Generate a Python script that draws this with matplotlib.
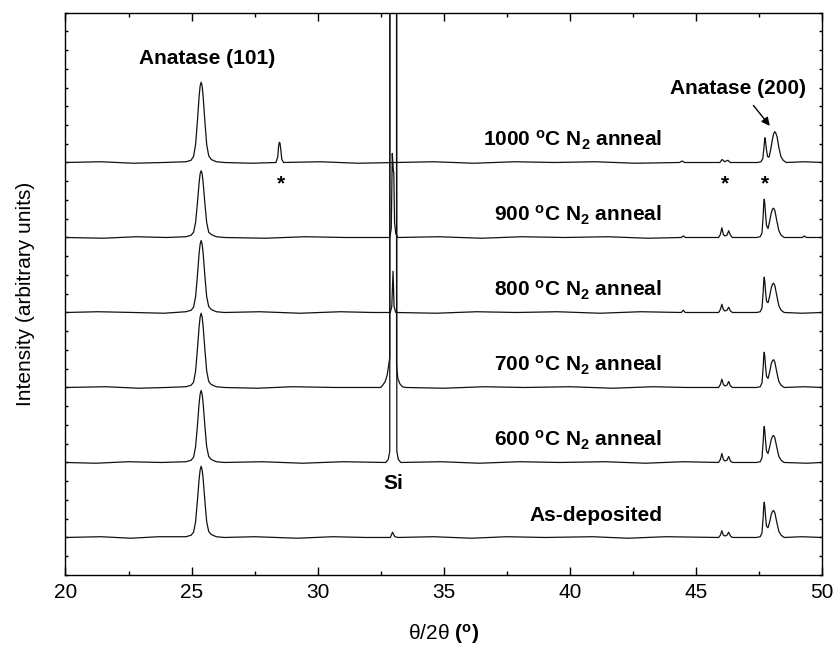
import numpy as np
import matplotlib.pyplot as plt
import matplotlib as mpl

plt.rcParams['font.family'] = 'Liberation Sans'
plt.rcParams['mathtext.fontset'] = 'custom'
plt.rcParams['mathtext.rm'] = 'Liberation Sans'
plt.rcParams['mathtext.bf'] = 'Liberation Sans:bold'
plt.rcParams['mathtext.it'] = 'Liberation Sans:italic'

# XRD scans: (2theta, intensity above the scan's own baseline)
# one baseline step between stacked scans = 1 unit

asdep = [(20.00, 0.00), (21.40, 0.01), (22.60, -0.01), (23.70, 0.01),
         (24.78, 0.01), (24.98, 0.03), (25.08, 0.07), (25.16, 0.21), (25.23, 0.48), (25.30, 0.78),
         (25.34, 0.90), (25.38, 0.95), (25.42, 0.90), (25.46, 0.78), (25.53, 0.48), (25.60, 0.21),
         (25.68, 0.08), (25.78, 0.04), (25.98, 0.01), (26.30, 0.00), (27.50, 0.01), (29.20, -0.01),
         (30.60, 0.01), (31.90, 0.00),
         (32.88, 0.00), (32.97, 0.07), (33.06, 0.01), (33.20, 0.00), (34.60, 0.01), (36.10, -0.01),
         (37.50, 0.01), (39.00, 0.00), (40.90, 0.01), (42.30, -0.01), (43.80, 0.01),
         (45.90, 0.00), (45.97, 0.03), (46.03, 0.09), (46.09, 0.03), (46.15, 0.02), (46.23, 0.03),
         (46.30, 0.07), (46.37, 0.02), (46.45, 0.00),
         (47.40, 0.00), (47.55, 0.01), (47.62, 0.06), (47.67, 0.28), (47.69, 0.42), (47.71, 0.47),
         (47.73, 0.42), (47.76, 0.29), (47.80, 0.15), (47.86, 0.13), (47.92, 0.20), (47.99, 0.31),
         (48.04, 0.35), (48.08, 0.36), (48.13, 0.33), (48.21, 0.20), (48.29, 0.08), (48.38, 0.03),
         (48.50, 0.00), (49.20, 0.01), (50.00, 0.00)]

n600 = [(20.00, 0.00), (21.20, -0.01), (22.50, 0.01), (23.80, 0.00),
        (24.78, 0.01), (24.98, 0.03), (25.08, 0.07), (25.16, 0.21), (25.23, 0.48), (25.30, 0.79),
        (25.34, 0.91), (25.38, 0.96), (25.42, 0.91), (25.46, 0.79), (25.53, 0.48), (25.60, 0.21),
        (25.68, 0.08), (25.78, 0.04), (25.98, 0.01), (26.30, 0.00), (27.80, 0.01), (29.40, -0.01),
        (31.00, 0.01),
        (32.70, 0.00), (32.80, 0.04), (32.86, 0.15), (32.90, 60.0), (33.10, 60.0), (33.14, 0.15),
        (33.20, 0.04), (33.30, 0.00), (34.90, 0.01), (36.40, -0.01), (38.00, 0.01), (39.60, 0.00),
        (41.40, 0.01), (43.00, -0.01), (44.50, 0.01),
        (45.90, 0.00), (45.97, 0.04), (46.03, 0.12), (46.09, 0.04), (46.15, 0.02), (46.23, 0.03),
        (46.30, 0.08), (46.37, 0.02), (46.45, 0.00),
        (47.40, 0.00), (47.55, 0.01), (47.62, 0.06), (47.67, 0.29), (47.69, 0.43), (47.71, 0.48),
        (47.73, 0.43), (47.76, 0.30), (47.80, 0.15), (47.86, 0.12), (47.92, 0.20), (47.99, 0.31),
        (48.04, 0.35), (48.08, 0.36), (48.13, 0.33), (48.21, 0.20), (48.29, 0.08), (48.38, 0.03),
        (48.50, 0.00), (49.40, -0.01), (50.00, 0.00)]

n700 = [(20.00, 0.00), (21.60, 0.01), (22.90, -0.01), (24.00, 0.00),
        (24.78, 0.01), (24.98, 0.03), (25.08, 0.07), (25.16, 0.22), (25.23, 0.50), (25.30, 0.81),
        (25.34, 0.94), (25.38, 0.99), (25.42, 0.94), (25.46, 0.81), (25.53, 0.50), (25.60, 0.22),
        (25.68, 0.08), (25.78, 0.04), (25.98, 0.01), (26.30, 0.00), (27.60, -0.01), (29.00, 0.01),
        (30.70, 0.00),
        (32.50, 0.00), (32.58, 0.03), (32.68, 0.08), (32.76, 0.17), (32.82, 0.30), (32.86, 0.40),
        (32.90, 60.0), (33.10, 60.0), (33.13, 0.30), (33.18, 0.12), (33.26, 0.05), (33.36, 0.01),
        (33.50, 0.00), (35.00, -0.01), (36.60, 0.01), (38.20, 0.00), (40.00, 0.01), (41.70, -0.01),
        (43.30, 0.01), (44.60, 0.00),
        (45.90, 0.00), (45.97, 0.04), (46.03, 0.11), (46.09, 0.04), (46.15, 0.02), (46.23, 0.03),
        (46.30, 0.08), (46.37, 0.02), (46.45, 0.00),
        (47.40, 0.00), (47.55, 0.01), (47.62, 0.06), (47.67, 0.28), (47.69, 0.42), (47.71, 0.47),
        (47.73, 0.42), (47.76, 0.29), (47.80, 0.15), (47.86, 0.12), (47.92, 0.20), (47.99, 0.32),
        (48.04, 0.36), (48.08, 0.37), (48.13, 0.34), (48.21, 0.20), (48.29, 0.08), (48.38, 0.03),
        (48.50, 0.00), (49.30, 0.01), (50.00, 0.00)]

n800 = [(20.00, 0.00), (21.30, 0.01), (22.70, 0.00), (23.90, -0.01),
        (24.78, 0.01), (24.98, 0.03), (25.08, 0.07), (25.16, 0.21), (25.23, 0.48), (25.30, 0.79),
        (25.34, 0.91), (25.38, 0.96), (25.42, 0.91), (25.46, 0.79), (25.53, 0.48), (25.60, 0.21),
        (25.68, 0.08), (25.78, 0.04), (25.98, 0.01), (26.30, 0.00), (27.70, 0.01), (29.30, -0.01),
        (30.90, 0.01), (32.20, 0.00),
        (32.88, 0.00), (32.94, 0.08), (32.99, 0.55), (33.03, 0.08), (33.10, 0.00), (34.70, -0.01),
        (36.30, 0.01), (37.90, 0.00), (39.50, 0.01), (41.20, -0.01), (42.80, 0.01),
        (44.42, 0.00), (44.50, 0.03), (44.58, 0.00),
        (45.90, 0.00), (45.97, 0.04), (46.03, 0.11), (46.09, 0.04), (46.15, 0.02), (46.23, 0.03),
        (46.30, 0.07), (46.37, 0.02), (46.45, 0.00),
        (47.40, 0.00), (47.55, 0.01), (47.62, 0.06), (47.67, 0.28), (47.69, 0.42), (47.71, 0.47),
        (47.73, 0.42), (47.76, 0.29), (47.80, 0.15), (47.86, 0.13), (47.92, 0.21), (47.99, 0.33),
        (48.04, 0.38), (48.08, 0.39), (48.13, 0.36), (48.21, 0.22), (48.29, 0.09), (48.38, 0.03),
        (48.50, 0.00), (49.20, -0.01), (50.00, 0.00)]

n900 = [(20.00, 0.00), (21.50, -0.01), (22.80, 0.01), (24.00, 0.00),
        (24.78, 0.01), (24.98, 0.03), (25.08, 0.07), (25.16, 0.20), (25.23, 0.45), (25.30, 0.73),
        (25.34, 0.85), (25.38, 0.89), (25.42, 0.85), (25.46, 0.73), (25.53, 0.45), (25.60, 0.20),
        (25.68, 0.07), (25.78, 0.04), (25.98, 0.01), (26.30, 0.00), (27.90, -0.01), (29.50, 0.01),
        (31.10, 0.00),
        (32.86, 0.00), (32.92, 0.12), (32.96, 1.12), (33.00, 0.90), (33.02, 0.86), (33.05, 0.20),
        (33.10, 0.05), (33.18, 0.00), (34.80, 0.01), (36.50, -0.01), (38.10, 0.01), (39.80, 0.00),
        (41.50, 0.01), (43.10, -0.01),
        (44.42, 0.00), (44.50, 0.02), (44.58, 0.00),
        (45.90, 0.00), (45.97, 0.04), (46.03, 0.13), (46.09, 0.04), (46.15, 0.02), (46.23, 0.03),
        (46.30, 0.09), (46.37, 0.03), (46.45, 0.00),
        (47.40, 0.00), (47.55, 0.01), (47.62, 0.06), (47.67, 0.30), (47.69, 0.46), (47.71, 0.51),
        (47.73, 0.46), (47.76, 0.32), (47.80, 0.16), (47.86, 0.12), (47.92, 0.21), (47.99, 0.33),
        (48.04, 0.38), (48.08, 0.39), (48.13, 0.36), (48.21, 0.22), (48.29, 0.09), (48.38, 0.03),
        (48.50, 0.00),
        (49.22, 0.00), (49.30, 0.02), (49.38, 0.00),
        (50.00, 0.00)]

n1000 = [(20.00, 0.00), (21.40, 0.01), (22.70, -0.01), (23.90, 0.00),
         (24.78, 0.01), (24.98, 0.03), (25.08, 0.08), (25.16, 0.24), (25.23, 0.54), (25.30, 0.88),
         (25.34, 1.02), (25.38, 1.07), (25.42, 1.02), (25.46, 0.88), (25.53, 0.54), (25.60, 0.24),
         (25.68, 0.09), (25.78, 0.04), (25.98, 0.01), (26.30, 0.00), (27.40, -0.01),
         (28.35, 0.00), (28.42, 0.08), (28.45, 0.21), (28.47, 0.26), (28.49, 0.27), (28.51, 0.25),
         (28.54, 0.17), (28.58, 0.04), (28.65, 0.00), (30.10, 0.01), (31.60, -0.01), (33.10, 0.00),
         (34.60, 0.01), (36.20, -0.01), (37.80, 0.01), (39.40, 0.00), (41.00, 0.01), (42.60, -0.01),
         (44.35, 0.00), (44.45, 0.02), (44.55, 0.00),
         (45.95, 0.00), (46.04, 0.04), (46.14, 0.01), (46.27, 0.03), (46.36, 0.00),
         (47.45, 0.00), (47.58, 0.01), (47.65, 0.05), (47.70, 0.20), (47.72, 0.29), (47.74, 0.33),
         (47.76, 0.29), (47.79, 0.19), (47.84, 0.08), (47.90, 0.07), (47.96, 0.16), (48.03, 0.30),
         (48.08, 0.38), (48.12, 0.41), (48.16, 0.40), (48.22, 0.34), (48.29, 0.20), (48.37, 0.08),
         (48.46, 0.03), (48.58, 0.00), (49.30, 0.01), (50.00, 0.00)]

scans = [asdep, n600, n700, n800, n900, n1000]
scan_labels = ['As-deposited',
               r'600 $^{\mathbf{o}}$C N$_{\mathbf{2}}$ anneal',
               r'700 $^{\mathbf{o}}$C N$_{\mathbf{2}}$ anneal',
               r'800 $^{\mathbf{o}}$C N$_{\mathbf{2}}$ anneal',
               r'900 $^{\mathbf{o}}$C N$_{\mathbf{2}}$ anneal',
               r'1000 $^{\mathbf{o}}$C N$_{\mathbf{2}}$ anneal']

star_pos = [28.55, 46.15, 47.74]

fig, ax = plt.subplots(figsize=(8.34, 6.48), dpi=100)
fig.subplots_adjust(left=0.0785, right=0.9856, bottom=0.1127, top=0.9807)

for i, scan in enumerate(scans):
    tt, inten = zip(*scan)
    ax.plot(tt, np.array(inten) + i, c='#111111', lw=0.9)
    ax.text(43.66, i + 0.22, scan_labels[i], ha='right', va='baseline', fontsize=15, fontweight='bold')

# peak markers
ax.text(25.6, 6.31, 'Anatase (101)', ha='center', va='baseline', fontsize=15, fontweight='bold')
ax.text(46.66, 5.91, 'Anatase (200)', ha='center', va='baseline', fontsize=15, fontweight='bold')
ax.annotate('', xy=(48.0, 5.46), xytext=(47.21, 5.79),
            arrowprops=dict(arrowstyle='-|>', color='k', lw=1, mutation_scale=12))
ax.text(33.0, 0.64, 'Si', ha='center', va='baseline', fontsize=15, fontweight='bold')
for p in star_pos:
    ax.text(p, 4.64, '*', ha='center', va='baseline', fontsize=15, fontweight='bold')

ax.set_xlim(20, 50)
ax.set_ylim(-0.5, 7.0)
ax.xaxis.set_major_locator(mpl.ticker.MultipleLocator(5))
ax.xaxis.set_minor_locator(mpl.ticker.MultipleLocator(2.5))
ax.yaxis.set_major_locator(mpl.ticker.MultipleLocator(0.25))
ax.tick_params(axis='x', which='major', direction='in', length=6, width=1, top=True, labelsize=15, pad=6)
ax.tick_params(axis='x', which='minor', direction='in', length=3, width=1, top=True)
ax.tick_params(axis='y', which='major', direction='in', length=2.5, width=1, right=True, labelleft=False)
for s in ax.spines.values():
    s.set_linewidth(1.0)

ax.set_xlabel(r'θ/2θ $\mathbf{(^{o})}$', fontsize=15, labelpad=14)
ax.set_ylabel('Intensity (arbitrary units)', fontsize=15, labelpad=22)

fig.savefig('out.png', dpi=100)
